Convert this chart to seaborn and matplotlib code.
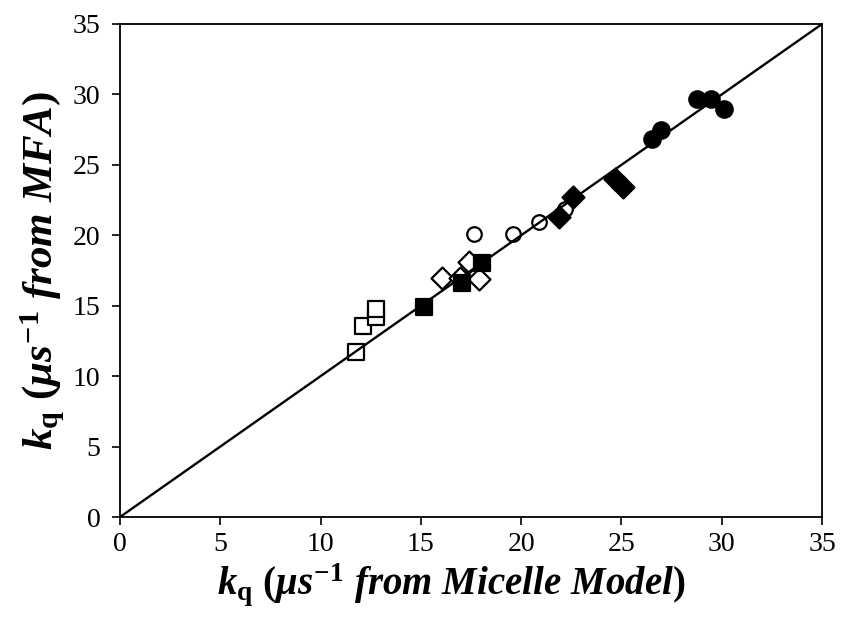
import numpy as np
import pandas as pd
import matplotlib
matplotlib.use("Agg")
import matplotlib.pyplot as plt
import seaborn as sns

# values (x = micelle model, y = MFA)
openSqX = [11.75, 12.13, 12.78, 12.78]
openSqY = [11.7, 13.55, 14.17, 14.75]
openDiaX = [16.03, 16.95, 17.41, 17.9]
openDiaY = [16.94, 17.0, 18.12, 16.87]
fillSqX = [15.17, 17.03, 18.03]
fillSqY = [14.93, 16.6, 18.03]
openCirX = [17.67, 19.61, 20.9, 22.18]
openCirY = [20.06, 20.06, 20.95, 21.9]
fillDiaX = [21.9, 22.56, 24.68, 25.1]
fillDiaY = [21.27, 22.73, 23.98, 23.45]
fillCirX = [26.5, 26.95, 28.78, 29.45, 30.1]
fillCirY = [26.83, 27.5, 29.7, 29.67, 29.0]
lineX = [0, 35]
lineY = [0, 35]
ticks = [0, 5, 10, 15, 20, 25, 30, 35]

sns.set_style("ticks")
plt.rcParams['font.family'] = ['Liberation Serif', 'DejaVu Serif']
plt.rcParams['mathtext.fontset'] = 'custom'
plt.rcParams['mathtext.rm'] = 'Liberation Serif:bold'
plt.rcParams['mathtext.it'] = 'Liberation Serif:italic:bold'
plt.rcParams['mathtext.bf'] = 'Liberation Serif:bold'
plt.rcParams['text.color'] = 'black'
plt.rcParams['axes.labelcolor'] = 'black'

fig = plt.figure(figsize=(8.42, 6.2), dpi=100)
ax = fig.add_axes([0.1425, 0.1661, 0.8338, 0.7952])

series = [
    (openSqX, openSqY, 's', 'white', 120),
    (openDiaX, openDiaY, 'D', 'white', 125),
    (openCirX, openCirY, 'o', 'white', 110),
    (fillSqX, fillSqY, 's', 'black', 120),
    (fillDiaX, fillDiaY, 'D', 'black', 125),
    (fillCirX, fillCirY, 'o', 'black', 140),
]
for xs, ys, m, fc, s in series:
    d = pd.DataFrame({'x': xs, 'y': ys})
    sns.scatterplot(data=d, x='x', y='y', marker=m, s=s, color=fc,
                    edgecolor='black', linewidth=1.6, ax=ax, zorder=3)

sns.lineplot(x=lineX, y=lineY, color='black', linewidth=1.7, ax=ax, zorder=4)

ax.set_xlim(0, 35)
ax.set_ylim(0, 35)
ax.set_xticks(ticks)
ax.set_yticks(ticks)
ax.tick_params(direction='out', length=6, width=1.2, labelsize=20, colors='black')
ax.tick_params(axis='y', pad=8)
ax.tick_params(axis='x', pad=5)
for sp in ax.spines.values():
    sp.set_visible(True)
    sp.set_linewidth(1.3)
    sp.set_color('black')

ax.set_xlabel(r'$\mathit{k}_{\mathrm{q}}\ (\mathit{\mu s}^{\mathrm{-1}}\ \mathit{from\ Micelle\ Model})$',
              fontsize=28)
ax.set_ylabel(r'$\mathit{k}_{\mathrm{q}}\ (\mathit{\mu s}^{\mathrm{-1}}\ \mathit{from\ MFA})$',
              fontsize=31)
ax.xaxis.set_label_coords(0.472, -0.09)
ax.yaxis.set_label_coords(-0.075, 0.5)

plt.savefig("out.png", dpi=100)
plt.close()
